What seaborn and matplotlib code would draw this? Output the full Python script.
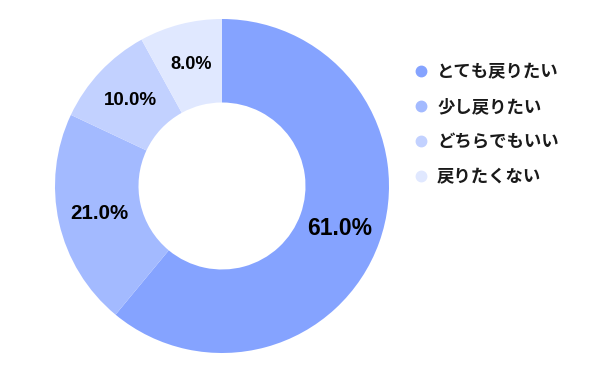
import matplotlib
matplotlib.use("Agg")
import matplotlib.pyplot as plt
from matplotlib.lines import Line2D
import seaborn as sns

categories = ["とても戻りたい", "少し戻りたい", "どちらでもいい", "戻りたくない"]
values = [61.0, 21.0, 10.0, 8.0]
colors = ["#85A3FF", "#A3BAFF", "#C2D1FF", "#E0E8FF"]
label_sizes = [16.5, 14.8, 13.5, 13.1]

sns.set_theme(style="white")
plt.rcParams['font.family'] = ['Noto Sans CJK JP', 'DejaVu Sans']

fig = plt.figure(figsize=(6, 3.71), dpi=100)
ax = fig.add_axes([55/600, 18/371, 334/600, 334/371])
palette = sns.color_palette(colors)

wedges, texts, autotexts = ax.pie(
    values, colors=palette, startangle=90, counterclock=False,
    radius=1.0, autopct="%.1f%%", pctdistance=0.75,
    wedgeprops=dict(width=0.5, linewidth=0),
)
for t, s in zip(autotexts, label_sizes):
    t.set_fontfamily(['Liberation Sans', 'DejaVu Sans'])
    t.set_fontweight('bold')
    t.set_fontsize(s)
    t.set_color('black')
ax.set_xlim(-1, 1)
ax.set_ylim(-1, 1)
ax.set_aspect('equal')
ax.axis('off')

handles = [Line2D([0], [0], marker='o', linestyle='', markersize=7.5,
                  markerfacecolor=c, markeredgecolor=c) for c in palette]
leg = fig.legend(handles, categories, loc='upper left',
                 bbox_to_anchor=(411/600, 1 - 63/371), frameon=False,
                 prop=dict(family=['Noto Sans CJK JP', 'DejaVu Sans'], weight='bold', size=12.5),
                 labelspacing=0.98, handletextpad=0.3, handlelength=1.2,
                 borderaxespad=0, borderpad=0)
for t in leg.get_texts():
    t.set_color('#1a1a1a')

fig.savefig("out.png", dpi=100, facecolor='white')
